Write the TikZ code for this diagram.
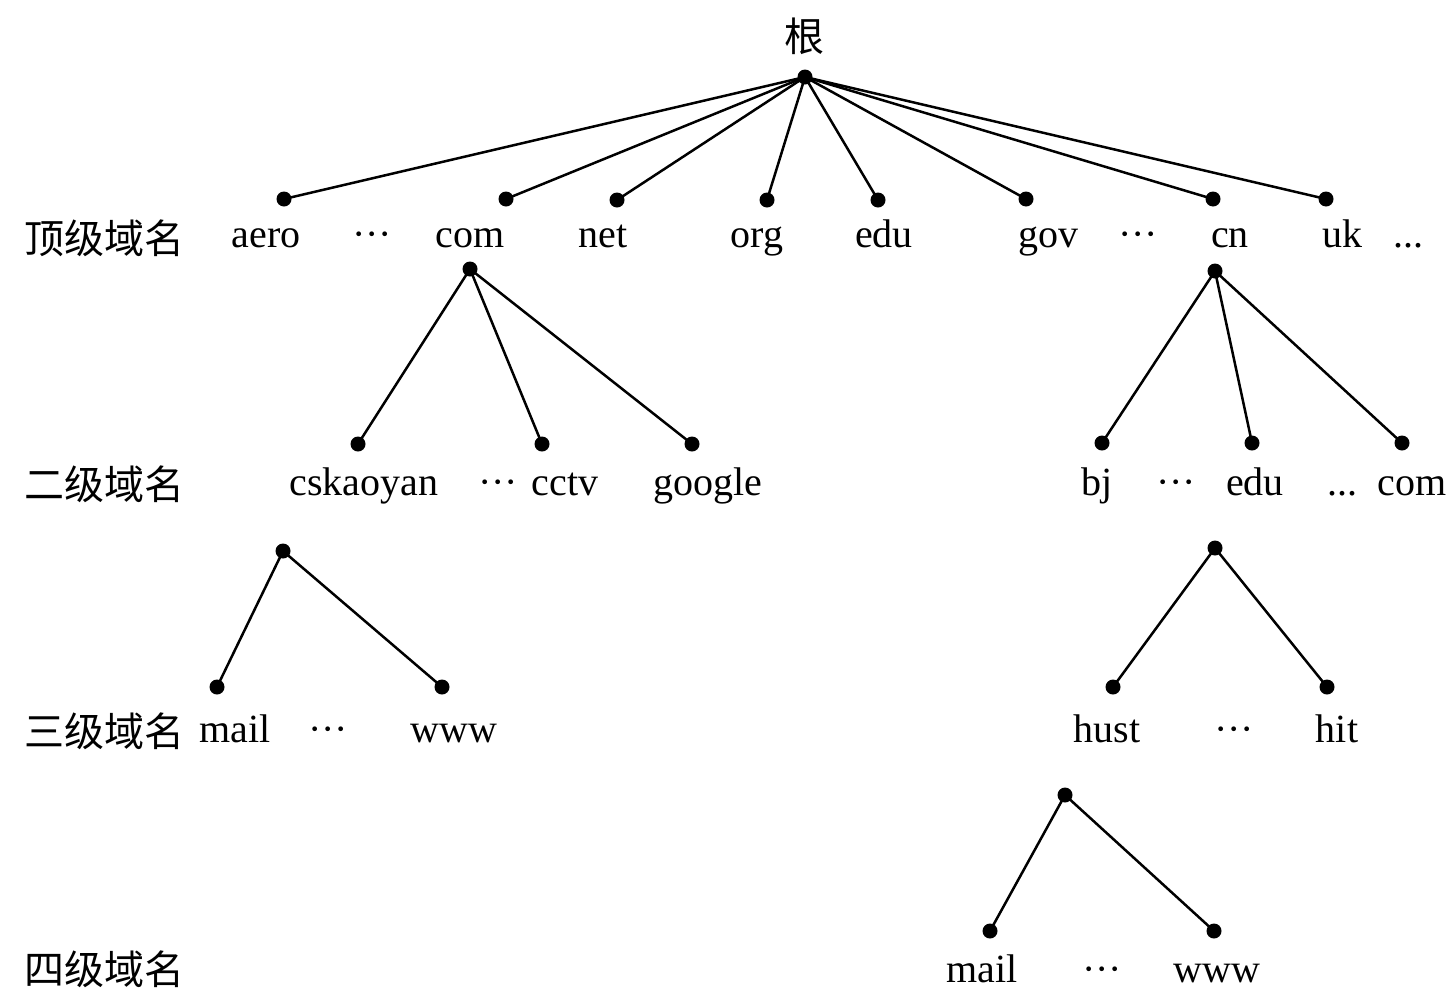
\documentclass[tikz,border=0pt]{standalone}
\usepackage{fontspec}
\setmainfont{Liberation Serif}
\newfontfamily\cjk{Noto Sans CJK SC}
\begin{document}
\begin{tikzpicture}[x=1pt,y=-1pt,
  dot/.style={circle,fill=black,inner sep=0pt,minimum size=15pt},
  lab/.style={anchor=base,inner sep=0pt,font=\fontsize{40}{40}\selectfont},
  lvl/.style={anchor=west,inner sep=0pt,font=\fontsize{40}{40}\selectfont\cjk},
  edge/.style={line width=2.5pt}]
\useasboundingbox (0,0) rectangle (1455,999);
% level labels
\node[lvl] (L1) at (24,238) {顶级域名};
\node[lvl] (L2) at (24,484) {二级域名};
\node[lvl] (L3) at (24,731) {三级域名};
\node[lvl] (L4) at (24,969) {四级域名};
\node[inner sep=0pt,font=\fontsize{40}{40}\selectfont\cjk] (rootlab) at (804,36) {根};
% dots
\node[dot] (r) at (805,77) {};
\node[dot] (t1) at (284,199) {};
\node[dot] (t2) at (506,199) {};
\node[dot] (t3) at (617,200) {};
\node[dot] (t4) at (767,200) {};
\node[dot] (t5) at (878,200) {};
\node[dot] (t6) at (1026,199) {};
\node[dot] (t7) at (1213,199) {};
\node[dot] (t8) at (1326,199) {};
\node[dot] (c1) at (470,269) {};
\node[dot] (n1) at (1215,271) {};
\node[dot] (s1) at (358,444) {};
\node[dot] (s2) at (542,444) {};
\node[dot] (s3) at (692,444) {};
\node[dot] (s4) at (1102,443) {};
\node[dot] (s5) at (1252,443) {};
\node[dot] (s6) at (1402,443) {};
\node[dot] (k1) at (283,551) {};
\node[dot] (e1) at (1215,548) {};
\node[dot] (m1) at (217,687) {};
\node[dot] (w1) at (442,687) {};
\node[dot] (h1) at (1113,687) {};
\node[dot] (h2) at (1327,687) {};
\node[dot] (u1) at (1065,795) {};
\node[dot] (m2) at (990,931) {};
\node[dot] (w2) at (1214,931) {};
% edges
\foreach \t in {t1,t2,t3,t4,t5,t6,t7,t8} \draw[edge] (r.center) -- (\t.center);
\foreach \t in {s1,s2,s3} \draw[edge] (c1.center) -- (\t.center);
\foreach \t in {s4,s5,s6} \draw[edge] (n1.center) -- (\t.center);
\foreach \t in {m1,w1} \draw[edge] (k1.center) -- (\t.center);
\foreach \t in {h1,h2} \draw[edge] (e1.center) -- (\t.center);
\foreach \t in {m2,w2} \draw[edge] (u1.center) -- (\t.center);
% top-level labels
\node[lab] (aero) at (266,247) {aero};
\node[lab] (d1) at (372,247) {···};
\node[lab] (com) at (470,247) {com};
\node[lab] (net) at (603,247) {net};
\node[lab] (org) at (757,247) {org};
\node[lab] (edu) at (884,247) {edu};
\node[lab] (gov) at (1048,247) {gov};
\node[lab] (d2) at (1138,247) {···};
\node[lab] (cn) at (1230,247) {cn};
\node[lab] (uk) at (1342,247) {uk};
\node[lab] (d3) at (1408,247) {...};
% second level
\node[lab] (csk) at (364,495) {cskaoyan};
\node[lab] (d4) at (498,495) {···};
\node[lab] (cctv) at (565,495) {cctv};
\node[lab] (goog) at (708,495) {google};
\node[lab] (bj) at (1097,495) {bj};
\node[lab] (d5) at (1176,495) {···};
\node[lab] (edu2) at (1255,495) {edu};
\node[lab] (d6) at (1342,495) {...};
\node[lab] (com2) at (1412,495) {com};
% third level
\node[lab] (mail1) at (235,742) {mail};
\node[lab] (d7) at (328,742) {···};
\node[lab] (www1) at (454,742) {www};
\node[lab] (hust) at (1107,742) {hust};
\node[lab] (d8) at (1234,742) {···};
\node[lab] (hit) at (1337,742) {hit};
% fourth level
\node[lab] (mail2) at (982,982) {mail};
\node[lab] (d9) at (1102,982) {···};
\node[lab] (www2) at (1217,982) {www};
\end{tikzpicture}
\end{document}
